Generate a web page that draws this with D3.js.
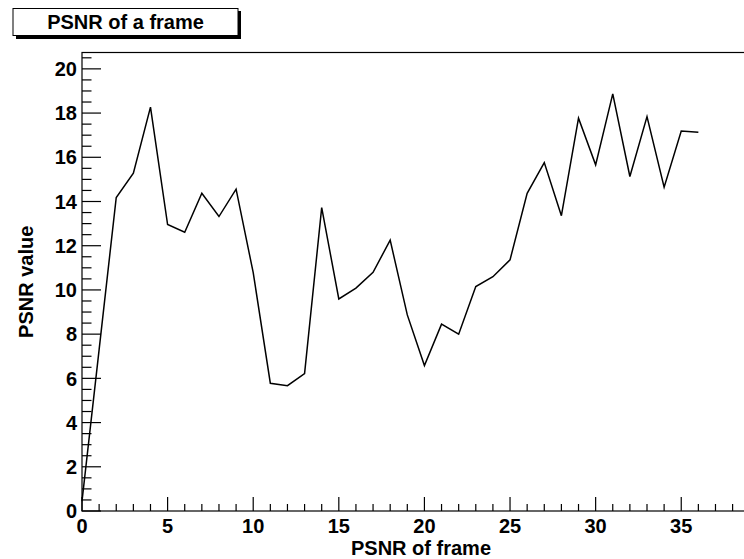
<!DOCTYPE html>
<html>
<head>
<meta charset="utf-8">
<script src="https://cdn.jsdelivr.net/npm/d3@7"></script>
<style>
  html, body { margin: 0; padding: 0; background: #fff; }
  svg { display: block; }
  text { font-family: "Liberation Sans", Arial, Helvetica, sans-serif; font-weight: bold; fill: #000; }
</style>
</head>
<body>
<script>
// ---- data ----
const frames = [0,1,2,3,4,5,6,7,8,9,10,11,12,13,14,15,16,17,18,19,20,21,22,23,24,25,26,27,28,29,30,31,32,33,34,35,36];
const psnr = [0.45,7.3,14.18,15.28,18.27,12.96,12.61,14.37,13.32,14.56,10.78,5.78,5.67,6.22,13.72,9.59,10.08,10.8,12.25,8.87,6.58,8.45,8.0,10.15,10.6,11.36,14.37,15.76,13.36,17.77,15.66,18.87,15.13,17.84,14.65,17.19,17.13];
const xTicks = [0,5,10,15,20,25,30,35];
const yTicks = [0,2,4,6,8,10,12,14,16,18,20];
const titleText = "PSNR of a frame";
const xLabel = "PSNR of frame";
const yLabel = "PSNR value";

const W = 744, H = 559;
const svg = d3.select("body").append("svg").attr("width", W).attr("height", H);

const xMax = 39.6, yMax = 20.74;
const x = d3.scaleLinear().domain([0, xMax]).range([82, 760]);
const y = d3.scaleLinear().domain([0, yMax]).range([511, 52.5]);

// frame
svg.append("rect")
  .attr("x", x(0)).attr("y", y(yMax))
  .attr("width", x(xMax) - x(0)).attr("height", y(0) - y(yMax))
  .attr("fill", "none").attr("stroke", "#000").attr("stroke-width", 1.2);

// x axis ticks (inward)
const xMinor = d3.range(0, 40, 1);
svg.append("g").selectAll("line").data(xMinor).join("line")
  .attr("x1", d => x(d)).attr("x2", d => x(d))
  .attr("y1", y(0)).attr("y2", d => y(0) - (d % 5 === 0 ? 14 : 7))
  .attr("stroke", "#000").attr("stroke-width", 1.2);
svg.append("g").selectAll("text").data(xTicks).join("text")
  .attr("x", d => x(d)).attr("y", 533)
  .attr("text-anchor", "middle").attr("font-size", 20)
  .text(d => d);

// y axis ticks (inward)
const yMinor = d3.range(0, 20.75, 0.5);
svg.append("g").selectAll("line").data(yMinor).join("line")
  .attr("x1", x(0)).attr("x2", d => x(0) + (Math.abs(d % 2) < 1e-9 ? 19 : 9.5))
  .attr("y1", d => y(d)).attr("y2", d => y(d))
  .attr("stroke", "#000").attr("stroke-width", 1.2);
svg.append("g").selectAll("text").data(yTicks).join("text")
  .attr("x", 77).attr("y", d => y(d))
  .attr("dy", "0.36em")
  .attr("text-anchor", "end").attr("font-size", 20)
  .text(d => d);

// data line
const line = d3.line().x((d, i) => x(frames[i])).y(d => y(d));
svg.append("path").datum(psnr)
  .attr("d", line)
  .attr("fill", "none").attr("stroke", "#000").attr("stroke-width", 1.5)
  .attr("stroke-linejoin", "miter");

// axis titles
svg.append("text")
  .attr("x", (x(0) + x(xMax)) / 2).attr("y", 555)
  .attr("text-anchor", "middle").attr("font-size", 20)
  .text(xLabel);
svg.append("text")
  .attr("transform", `translate(33, ${(y(0) + y(yMax)) / 2}) rotate(-90)`)
  .attr("text-anchor", "middle").attr("font-size", 20)
  .text(yLabel);

// title box with shadow
svg.append("rect").attr("x", 16).attr("y", 11).attr("width", 225).attr("height", 28).attr("fill", "#000");
svg.append("rect").attr("x", 13).attr("y", 8.5).attr("width", 225).attr("height", 27)
  .attr("fill", "#fff").attr("stroke", "#000").attr("stroke-width", 1);
svg.append("text")
  .attr("x", 125.5).attr("y", 28.5)
  .attr("text-anchor", "middle").attr("font-size", 20)
  .text(titleText);
</script>
</body>
</html>
